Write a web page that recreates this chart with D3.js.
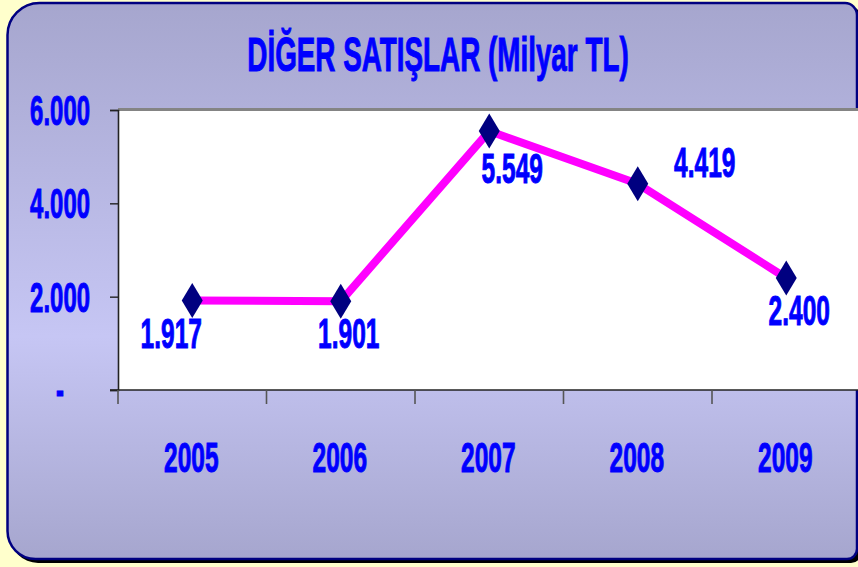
<!DOCTYPE html>
<html>
<head>
<meta charset="utf-8">
<script src="https://cdn.jsdelivr.net/npm/d3@7"></script>
<style>
  html, body { margin: 0; padding: 0; background: #ffffcc; }
  text { font-family: "Liberation Sans", Arial, sans-serif; font-weight: bold;
         fill: #0000ff; stroke: #0000ff; stroke-width: 1; }
</style>
</head>
<body>
<script>
// Diğer satışlar, milyar TL
const WIDTH  = 858;
const HEIGHT = 567;

const years  = ['2005', '2006', '2007', '2008', '2009'];
const sales  = [1917, 1901, 5549, 4419, 2400];
const yTicks = [0, 2000, 4000, 6000];
const TITLE  = 'DİĞER SATIŞLAR (Milyar TL)';

// Etiketlerin noktaya göre kaydırılması (orijinalde elle taşınmış)
const labelNudge = [[-21, 47], [8, 47], [23, 52], [67, -7], [13, 47]];

const SQUEEZE = 0.57;   // metinler yatayda dar
const plot = { left: 118, top: 110, right: 861, bottom: 390 };

const tr = d3.formatLocale({ decimal: ',', thousands: '.', grouping: [3], currency: ['', ''] });
const fmt = tr.format(',d');

const svg = d3.select('body').append('svg')
    .attr('width', WIDTH)
    .attr('height', HEIGHT);

const defs = svg.append('defs');
const grad = defs.append('linearGradient')
    .attr('id', 'bg').attr('x1', 0).attr('y1', 0).attr('x2', 0).attr('y2', 1);
grad.append('stop').attr('offset', '0%').attr('stop-color', '#a6a6ce');
grad.append('stop').attr('offset', '60%').attr('stop-color', '#c6c6f4');
grad.append('stop').attr('offset', '100%').attr('stop-color', '#a6a6ce');

// Kartın kenarı: köşe yarıçapları farklı
const card = (x0, y0, x1, y1) => {
    const p = d3.path();
    const rtl = 32, rtr = 12, rbr = 10, rbl = 28;
    p.moveTo(x0 + rtl, y0);
    p.lineTo(x1 - rtr, y0);
    p.arcTo(x1, y0, x1, y0 + rtr, rtr);
    p.lineTo(x1, y1 - rbr);
    p.arcTo(x1, y1, x1 - rbr, y1, rbr);
    p.lineTo(x0 + rbl, y1);
    p.arcTo(x0, y1, x0, y1 - rbl, rbl);
    p.lineTo(x0, y0 + rtl);
    p.arcTo(x0, y0, x0 + rtl, y0, rtl);
    p.closePath();
    return p.toString();
};

svg.append('path')
    .attr('d', card(10, 6, 861, 563))
    .attr('fill', '#000');
svg.append('path')
    .attr('d', card(7.5, 3, 857, 559))
    .attr('fill', 'url(#bg)')
    .attr('stroke', '#000080')
    .attr('stroke-width', 2.5);

// Ölçekler
const x = d3.scaleBand()
    .domain(years)
    .range([plot.left, plot.left + 148.5 * years.length]);

const y = d3.scaleLinear()
    .domain([0, 6000])
    .range([plot.bottom, plot.top]);

// Çizim alanı
svg.append('rect')
    .attr('x', plot.left)
    .attr('y', plot.top)
    .attr('width', plot.right - plot.left)
    .attr('height', plot.bottom - plot.top)
    .attr('fill', '#fff');
svg.append('line')
    .attr('x1', plot.left).attr('x2', plot.right)
    .attr('y1', plot.top - 0.5).attr('y2', plot.top - 0.5)
    .attr('stroke', '#848484').attr('stroke-width', 3);

// Eksenler
const yAxis = svg.append('g')
    .attr('transform', `translate(${plot.left},0)`)
    .call(d3.axisLeft(y).tickValues(yTicks).tickSize(8).tickFormat(''));
yAxis.select('.domain').attr('stroke', '#222').attr('stroke-width', 1.6);
yAxis.selectAll('.tick line').attr('stroke', '#222').attr('stroke-width', 1.4);

const xAxis = svg.append('g')
    .attr('transform', `translate(0,${plot.bottom})`)
    .call(d3.axisBottom(x).tickSize(0).tickFormat(''));
xAxis.select('.domain').remove();
xAxis.append('line')
    .attr('x1', plot.left - 8).attr('x2', plot.right)
    .attr('stroke', '#222').attr('stroke-width', 1.4);
xAxis.selectAll('.tickmark')
    .data(years)
    .enter().append('line')
    .attr('x1', d => x(d)).attr('x2', d => x(d))
    .attr('y1', 0).attr('y2', 14)
    .attr('stroke', '#555').attr('stroke-width', 1.6);

const squeezed = (sel, px, py) => sel.attr('transform', (d, i) =>
    `translate(${px(d, i)},${py(d, i)}) scale(${SQUEEZE},1)`);

// Y etiketleri
svg.selectAll('.ylab')
    .data(yTicks)
    .enter().append('text')
    .attr('class', 'ylab')
    .attr('font-size', 42)
    .attr('text-anchor', d => d === 0 ? 'middle' : 'end')
    .text(d => d === 0 ? '-' : fmt(d))
    .call(squeezed, d => d === 0 ? 60 : 90, d => y(d) + 15);

// X etiketleri
svg.selectAll('.xlab')
    .data(years)
    .enter().append('text')
    .attr('class', 'xlab')
    .attr('font-size', 43)
    .attr('text-anchor', 'middle')
    .text(d => d)
    .call(squeezed, d => x(d) + x.bandwidth() / 2 - 1, () => 472);

// Başlık
svg.append('text')
    .attr('font-size', 48)
    .attr('text-anchor', 'middle')
    .attr('transform', `translate(438,71) scale(0.58,1)`)
    .text(TITLE);

// Çizgi ve işaretler
const cx = i => x(years[i]) + x.bandwidth() / 2;
const line = d3.line()
    .x((d, i) => cx(i))
    .y(d => y(d));

svg.append('path')
    .datum(sales)
    .attr('d', line)
    .attr('fill', 'none')
    .attr('stroke', '#ff00ff')
    .attr('stroke-width', 8)
    .attr('stroke-linejoin', 'round');

svg.selectAll('.marker')
    .data(sales)
    .enter().append('path')
    .attr('class', 'marker')
    .attr('d', 'M0,-17.5L10.5,0L0,17.5L-10.5,0Z')
    .attr('fill', '#000080')
    .attr('transform', (d, i) => `translate(${cx(i)},${y(d)})`);

// Değer etiketleri
svg.selectAll('.vlab')
    .data(sales)
    .enter().append('text')
    .attr('class', 'vlab')
    .attr('font-size', 43)
    .attr('text-anchor', 'middle')
    .text(d => fmt(d))
    .call(squeezed, (d, i) => cx(i) + labelNudge[i][0], (d, i) => y(d) + labelNudge[i][1]);
</script>
</body>
</html>
